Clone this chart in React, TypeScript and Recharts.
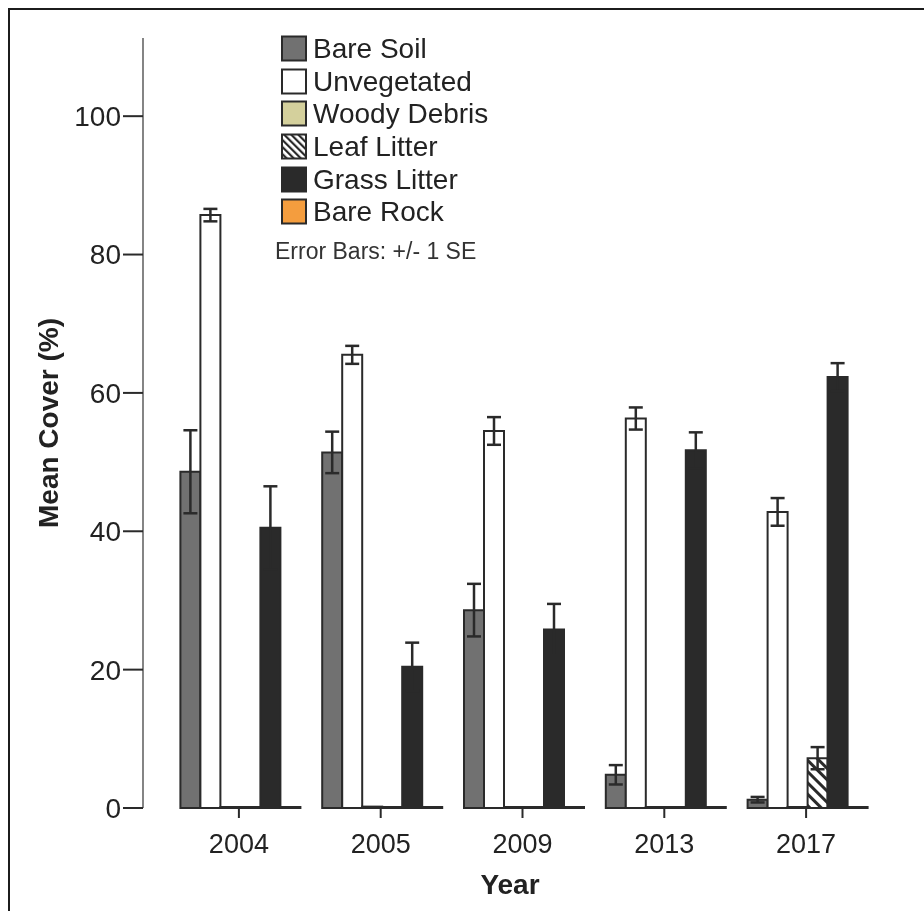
import { BarChart, Bar, XAxis, YAxis, ErrorBar, Label } from 'recharts'

// values (mean cover %, error bars +/- 1 SE)
const years = ['2004', '2005', '2009', '2013', '2017']
const bareSoil = [48.6, 51.4, 28.6, 4.8, 1.2]
const bareSoilSE = [6.0, 3.0, 3.8, 1.4, 0.4]
const unvegetated = [85.7, 65.5, 54.5, 56.3, 42.8]
const unvegetatedSE = [0.9, 1.3, 2.0, 1.6, 2.0]
const woodyDebris = [0.1, 0.2, 0.1, 0.1, 0.1]
const leafLitter = [0.1, 0, 0, 0.1, 7.2]
const leafLitterSE = [0, 0, 0, 0, 1.6]
const grassLitter = [40.5, 20.4, 25.8, 51.7, 62.3]
const grassLitterSE = [6.0, 3.5, 3.7, 2.6, 2.0]
const bareRock = [0, 0, 0, 0, 0]
const yTicks = [0, 20, 40, 60, 80, 100]

const data = years.map((year, i) => ({
  year,
  bareSoil: bareSoil[i],
  bareSoilSE: bareSoilSE[i],
  unvegetated: unvegetated[i],
  unvegetatedSE: unvegetatedSE[i],
  woodyDebris: woodyDebris[i],
  leafLitter: leafLitter[i],
  leafLitterSE: leafLitterSE[i],
  grassLitter: grassLitter[i],
  grassLitterSE: grassLitterSE[i],
  bareRock: bareRock[i],
}))

const INK = '#2a2a2a'
const FONT = '"Liberation Sans", Arial, sans-serif'

const series = [
  { key: 'bareSoil', name: 'Bare Soil', fill: '#717171', se: 'bareSoilSE' },
  { key: 'unvegetated', name: 'Unvegetated', fill: '#ffffff', se: 'unvegetatedSE' },
  { key: 'woodyDebris', name: 'Woody Debris', fill: '#d4d09c', se: null },
  { key: 'leafLitter', name: 'Leaf Litter', fill: 'url(#hatch)', se: 'leafLitterSE' },
  { key: 'grassLitter', name: 'Grass Litter', fill: INK, se: 'grassLitterSE' },
  { key: 'bareRock', name: 'Bare Rock', fill: '#f49d3e', se: null },
]

function LegendBox() {
  return (
    <div style={{ position: 'absolute', left: 273, top: 27, fontFamily: FONT, color: '#222' }}>
      {series.map((s) => (
        <div key={s.key} style={{ display: 'flex', alignItems: 'center', height: 27, marginBottom: 5.7 }}>
          <svg width={26} height={27} style={{ display: 'block' }}>
            <defs>
              <pattern id={'lg-' + s.key} patternUnits="userSpaceOnUse" width="5" height="5" patternTransform="rotate(-45)">
                <rect width="5" height="5" fill="#fff" />
                <rect width="2.2" height="5" fill={INK} />
              </pattern>
            </defs>
            <rect
              x={1}
              y={1.5}
              width={24}
              height={24}
              fill={s.key === 'leafLitter' ? 'url(#lg-' + s.key + ')' : s.fill}
              stroke={INK}
              strokeWidth={2}
            />
          </svg>
          <span style={{ fontSize: 28, lineHeight: '27px', marginLeft: 6 }}>{s.name}</span>
        </div>
      ))}
      <div style={{ fontSize: 23, lineHeight: '23px', marginLeft: -6, marginTop: 15, color: '#333' }}>
        Error Bars: +/- 1 SE
      </div>
    </div>
  )
}

export default function App() {
  return (
    <div style={{ position: 'relative', width: 900, height: 895 }}>
      <div
        style={{
          position: 'fixed',
          left: 8,
          top: 8,
          width: 940,
          height: 940,
          borderLeft: '2px solid #1c1c1c',
          borderTop: '2px solid #1c1c1c',
        }}
      />
      <BarChart
        width={900}
        height={895}
        data={data}
        margin={{ top: 30, right: 31, bottom: 35, left: 0 }}
        barCategoryGap={12.4}
        barGap={0}
      >
        <defs>
          <pattern id="hatch" patternUnits="userSpaceOnUse" width="8" height="8" patternTransform="rotate(-45)">
            <rect width="8" height="8" fill="#fff" />
            <rect width="3" height="8" fill={INK} />
          </pattern>
        </defs>
        <XAxis
          dataKey="year"
          axisLine={false}
          tickLine={{ stroke: INK, strokeWidth: 2 }}
          tickSize={10}
          tickMargin={16}
          height={60}
          padding={{ left: 25, right: 0 }}
          tick={{ fill: '#222', fontSize: 27, fontFamily: FONT }}
        >
          <Label
            value="Year"
            position="bottom"
            offset={6}
            style={{ fill: '#222', fontSize: 28, fontWeight: 'bold', fontFamily: FONT }}
          />
        </XAxis>
        <YAxis
          width={135}
          domain={[0, 111.3]}
          ticks={yTicks}
          axisLine={{ stroke: '#333', strokeWidth: 1.2 }}
          tickLine={{ stroke: INK, strokeWidth: 2 }}
          tickSize={20}
          tick={{ fill: '#222', fontSize: 28, fontFamily: FONT }}
        >
          <Label
            value="Mean Cover (%)"
            angle={-90}
            position="insideLeft"
            offset={40}
            style={{ fill: '#222', fontSize: 28, fontWeight: 'bold', fontFamily: FONT, textAnchor: 'middle' }}
          />
        </YAxis>
        {series.map((s) => (
          <Bar
            key={s.key}
            dataKey={s.key}
            name={s.name}
            fill={s.fill}
            stroke={INK}
            strokeWidth={2}
            minPointSize={1}
            isAnimationActive={false}
          >
            {s.se && <ErrorBar dataKey={s.se} width={7} stroke={INK} strokeWidth={2.5} direction="y" />}
          </Bar>
        ))}
      </BarChart>
      <LegendBox />
    </div>
  )
}
